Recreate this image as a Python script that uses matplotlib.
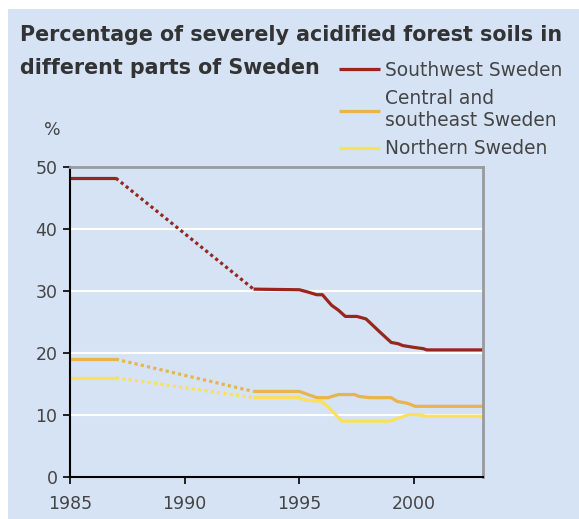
import matplotlib
matplotlib.use('Agg')
import matplotlib.pyplot as plt
from matplotlib.patches import Rectangle

plt.rcParams['font.family'] = ['DejaVu Sans']

# 数据
sw_years = [1985, 1987, 1993, 1995.0, 1995.4, 1995.75, 1996.0, 1996.4, 1996.7, 1997.0,
            1997.5, 1997.9, 1998.5, 1999.0, 1999.3, 1999.5, 2000.0, 2000.4, 2000.55, 2003]
sw_vals = [48.2, 48.2, 30.3, 30.2, 29.8, 29.4, 29.4, 27.7, 26.9, 25.9,
           25.9, 25.5, 23.4, 21.7, 21.5, 21.2, 20.9, 20.7, 20.5, 20.5]

central_years = [1985, 1987, 1993, 1995.0, 1995.3, 1995.75, 1996.25, 1996.7, 1997.4, 1997.6,
                 1998.05, 1999.0, 1999.25, 1999.7, 2000.05, 2003]
central_vals = [19.0, 19.0, 13.8, 13.8, 13.4, 12.8, 12.8, 13.3, 13.3, 13.0,
                12.8, 12.8, 12.2, 11.9, 11.4, 11.4]

north_years = [1985, 1987, 1993, 1995.0, 1995.25, 1995.95, 1996.25, 1996.85, 1998.9, 1999.25,
               1999.8, 2000.3, 2000.5, 2003]
north_vals = [16.0, 16.0, 12.8, 12.8, 12.4, 12.2, 11.3, 9.0, 9.0, 9.4,
              10.1, 10.0, 9.8, 9.8]

series_names = ['Southwest Sweden', 'Central and\nsoutheast Sweden', 'Northern Sweden']
colors = ['#98261a', '#e9b44c', '#fbe05c']

x_ticks = [1985, 1990, 1995, 2000]
y_ticks = [0, 10, 20, 30, 40, 50]

fig = plt.figure(figsize=(5.79, 5.19), dpi=100)
fig.patch.set_facecolor('white')
fig.patches.append(Rectangle((8 / 579, 0), 1, (519 - 9) / 519, transform=fig.transFigure,
                             facecolor='#d5e3f5', edgecolor='none', zorder=-5))

ax = fig.add_axes([70 / 579, 42 / 519, 413 / 579, 310 / 519])
ax.set_facecolor('#d5e3f5')

for yrs, vals, c, name in zip([sw_years, central_years, north_years],
                              [sw_vals, central_vals, north_vals], colors, series_names):
    # 1985-1987 实线, 1987-1993 虚线, 1993 之后实线
    ax.plot(yrs[:2], vals[:2], '-', color=c, lw=2.3, solid_capstyle='butt', label=name)
    ax.plot(yrs[1:3], vals[1:3], color=c, lw=2.3, linestyle=(0, (1.0, 1.0)))
    ax.plot(yrs[2:], vals[2:], '-', color=c, lw=2.3, solid_capstyle='butt')

ax.set_xlim(1985, 2003)
ax.set_ylim(0, 50)
ax.set_xticks(x_ticks)
ax.set_yticks(y_ticks)
ax.yaxis.grid(True, color='white', lw=1.5)
ax.set_axisbelow(True)

for s in ['left', 'bottom']:
    ax.spines[s].set_color('black')
    ax.spines[s].set_linewidth(1.5)
for s in ['top', 'right']:
    ax.spines[s].set_color('#9a9a9a')
    ax.spines[s].set_linewidth(2)

ax.tick_params(axis='both', length=5, width=1.2, color='black', labelcolor='#444444',
               labelsize=12.5, pad=4)
ax.tick_params(axis='x', pad=8)

fig.text(44 / 579, 1 - 130 / 519, '%', fontsize=12.5, color='#444444', ha='left', va='center')
fig.text(20 / 579, 1 - 35 / 519, 'Percentage of severely acidified forest soils in',
         fontsize=14.9, fontweight='bold', color='#333333', ha='left', va='center')
fig.text(20 / 579, 1 - 68 / 519, 'different parts of Sweden',
         fontsize=14.9, fontweight='bold', color='#333333', ha='left', va='center')

leg = fig.legend(loc='upper left', bbox_to_anchor=(322 / 579, 1 - 44 / 519), frameon=False,
                 fontsize=13.4, handlelength=2.2, handletextpad=0.27, labelspacing=0.5,
                 labelcolor='#444444')

plt.savefig('out.png', dpi=100)
